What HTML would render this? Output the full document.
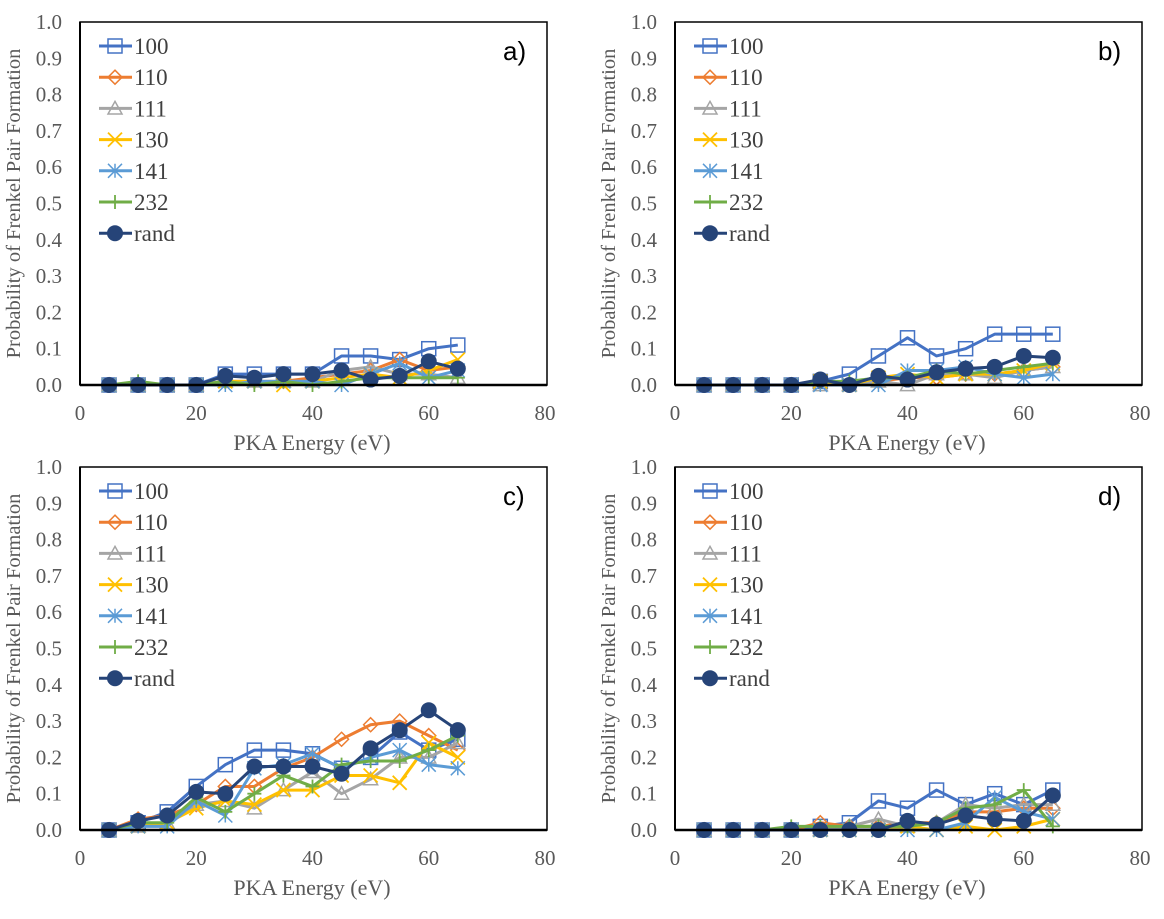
<!DOCTYPE html>
<html><head><meta charset="utf-8"><style>
body{margin:0;background:#fff;width:1164px;height:914px;overflow:hidden}
svg text{font-family:"Liberation Serif","DejaVu Serif",serif}
svg text.sans{font-family:"Liberation Sans",sans-serif}
</style></head><body>
<svg id="s" width="1164" height="914" xmlns="http://www.w3.org/2000/svg"></svg>
<script>
const xs=[5,10,15,20,25,30,35,40,45,50,55,60,65];
const seriesNames=["100","110","111","130","141","232","rand"];
const colors=["#4472C4","#ED7D31","#A5A5A5","#FFC000","#5B9BD5","#70AD47","#264478"];
const yTicks=["0.0","0.1","0.2","0.3","0.4","0.5","0.6","0.7","0.8","0.9","1.0"];
const xTicks=[0,20,40,60,80];
const dataA=[
[0,0,0,0,0.03,0.03,0.03,0.03,0.08,0.08,0.07,0.1,0.11],
[0,0,0,0,0.01,0.01,0.01,0.02,0.03,0.04,0.07,0.04,0.05],
[0,0,0,0,0.01,0.01,0.01,0.01,0.04,0.05,0.03,0.03,0.02],
[0,0,0,0,0.01,0.01,0,0.01,0.02,0.03,0.02,0.04,0.07],
[0,0,0,0,0,0.01,0.01,0.01,0,0.03,0.06,0.02,0.04],
[0,0.01,0,0,0.01,0,0.01,0,0.01,0.02,0.02,0.02,0.02],
[0,0,0,0,0.025,0.02,0.03,0.03,0.04,0.015,0.025,0.065,0.045]];
const dataB=[
[0,0,0,0,0.01,0.03,0.08,0.13,0.08,0.1,0.14,0.14,0.14],
[0,0,0,0,0.01,0,0.01,0.02,0.02,0.03,0.03,0.04,0.05],
[0,0,0,0,0,0,0.01,0,0.03,0.03,0.02,0.04,0.05],
[0,0,0,0,0.01,0,0.02,0.03,0.02,0.03,0.03,0.04,0.06],
[0,0,0,0,0,0,0,0.04,0.04,0.05,0.03,0.02,0.03],
[0,0,0,0,0.01,0.01,0.02,0.02,0.04,0.03,0.04,0.05,0.06],
[0,0,0,0,0.015,0,0.025,0.015,0.035,0.045,0.05,0.08,0.075]];
const dataC=[
[0,0.02,0.05,0.12,0.18,0.22,0.22,0.21,0.17,0.2,0.27,0.22,0.25],
[0,0.03,0.04,0.07,0.12,0.12,0.17,0.2,0.25,0.29,0.3,0.26,0.22],
[0,0.01,0.02,0.07,0.08,0.06,0.11,0.16,0.1,0.14,0.2,0.2,0.24],
[0,0.01,0.02,0.06,0.08,0.07,0.11,0.11,0.15,0.15,0.13,0.24,0.2],
[0,0.01,0.01,0.08,0.04,0.17,0.18,0.21,0.17,0.2,0.22,0.18,0.17],
[0,0.02,0.02,0.09,0.05,0.1,0.15,0.12,0.18,0.19,0.19,0.22,0.26],
[0,0.025,0.04,0.105,0.1,0.175,0.175,0.175,0.155,0.225,0.275,0.33,0.275]];
const dataD=[
[0,0,0,0,0.01,0.02,0.08,0.06,0.11,0.07,0.1,0.07,0.11],
[0,0,0,0,0.02,0.01,0.01,0.02,0.02,0.05,0.05,0.06,0.06],
[0,0,0,0,0,0.01,0.03,0.01,0.02,0.07,0.06,0.07,0.07],
[0,0,0,0,0,0,0,0.01,0,0.01,0,0.01,0.03],
[0,0,0,0,0,0,0,0,0,0.02,0.09,0.05,0.03],
[0,0,0,0.01,0.01,0.01,0.01,0.01,0.02,0.06,0.07,0.11,0.01],
[0,0,0,0,0,0,0,0.025,0.015,0.04,0.03,0.025,0.095]];
const NS="http://www.w3.org/2000/svg";
const svg=document.getElementById("s");
function mk(tag,attrs,parent){const e=document.createElementNS(NS,tag);for(const k in attrs)e.setAttribute(k,attrs[k]);(parent||svg).appendChild(e);return e;}
function marker(g,k,cx,cy,c){
 const s=7;
 if(k===0){const m=mk("rect",{x:cx-s,y:cy-s,width:2*s,height:2*s,fill:"none",stroke:c,"stroke-width":1.5},g);}
 else if(k===1){const m=mk("polygon",{points:`${cx},${cy-s} ${cx+s},${cy} ${cx},${cy+s} ${cx-s},${cy}`,fill:"none",stroke:c,"stroke-width":1.5},g);}
 else if(k===2){const m=mk("polygon",{points:`${cx},${cy-s} ${cx+s},${cy+s*0.8} ${cx-s},${cy+s*0.8}`,fill:"none",stroke:c,"stroke-width":1.5},g);}
 else if(k===3){const m=mk("path",{d:`M${cx-s} ${cy-s}L${cx+s} ${cy+s}M${cx+s} ${cy-s}L${cx-s} ${cy+s}`,stroke:c,"stroke-width":1.8},g);}
 else if(k===4){const m=mk("path",{d:`M${cx-s} ${cy-s}L${cx+s} ${cy+s}M${cx+s} ${cy-s}L${cx-s} ${cy+s}M${cx} ${cy-s}L${cx} ${cy+s}`,stroke:c,"stroke-width":1.5},g);}
 else if(k===5){const m=mk("path",{d:`M${cx-s} ${cy}L${cx+s} ${cy}M${cx} ${cy-s}L${cx} ${cy+s}`,stroke:c,"stroke-width":1.8},g);}
 else {const m=mk("circle",{cx:cx,cy:cy,r:8,fill:c},g);}
}
function panel(name,data,x0,y0,label){
 const H=363, x1=x0+467, yTop=y0-H;
 const X=v=>x0+(v/80)*465, Y=v=>y0-v*H;
 const g=mk("g",{});
 
 
 yTicks.forEach((t,i)=>{const e=mk("text",{x:x0-18,y:Y(+t)+7,"text-anchor":"end","font-size":21,fill:"#595959"},g);e.textContent=t;
  });
 xTicks.forEach(t=>{const e=mk("text",{x:X(t),y:y0+35,"text-anchor":"middle","font-size":21,fill:"#595959"},g);e.textContent=t;
  });
 const xt=mk("text",{x:x0+232,y:y0+65,"text-anchor":"middle","font-size":22,fill:"#595959"},g);xt.textContent="PKA Energy (eV)";
 
 const yt=mk("text",{transform:`translate(${x0-60},${y0-H/2}) rotate(-90)`,"text-anchor":"middle","font-size":20.5,fill:"#595959"},g);yt.textContent="Probability of Frenkel Pair Formation";
 
 const box=mk("rect",{x:x0,y:yTop,width:x1-x0,height:H,fill:"none",stroke:"#000","stroke-width":1.5},g);
 
 data.forEach((ser,k)=>{
  const sg=mk("g",{},g);
  
  
  const pts=ser.map((v,i)=>X(xs[i])+","+Y(v)).join(" ");
  const pl=mk("polyline",{points:pts,fill:"none",stroke:colors[k],"stroke-width":3,"stroke-linejoin":"round"},sg);
  
  
  ser.forEach((v,i)=>marker(sg,k,X(xs[i]),Y(v),colors[k]));
 });
 const a2=mk("line",{x1:x0,y1:y0,x2:x1,y2:y0,stroke:"#000","stroke-width":2.5},g);
 
 const a1=mk("line",{x1:x0,y1:yTop,x2:x0,y2:y0,stroke:"#000","stroke-width":2},g);
 
 seriesNames.forEach((n,k)=>{
  const ly=yTop+24+k*31.2;
  const lg=mk("g",{},g);
  
  
  mk("line",{x1:x0+19,y1:ly,x2:x0+52,y2:ly,stroke:colors[k],"stroke-width":3},lg);
  marker(lg,k,x0+35,ly,colors[k]);
  const t=mk("text",{x:x0+54,y:ly+8,"font-size":23,fill:"#404040"},lg);t.textContent=n;
 });
 const pl=mk("text",{x:x1-44,y:yTop+38,"font-size":26,fill:"#000",class:"sans"},g);pl.textContent=label;
 
}
panel("a",dataA,80,385,"a)");
panel("b",dataB,675,385,"b)");
panel("c",dataC,80,830,"c)");
panel("d",dataD,675,830,"d)");
</script>
</body></html>
